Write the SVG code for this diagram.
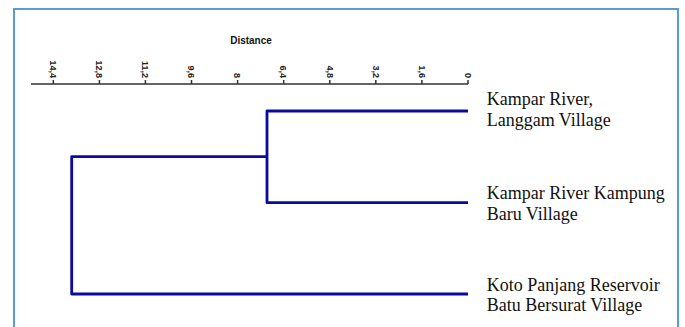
<svg xmlns="http://www.w3.org/2000/svg" width="685" height="327" viewBox="0 0 685 327">
<style>
.frame{fill:none;stroke:#5b9bd5;stroke-width:2}
.axis{fill:none;stroke:#333;stroke-width:1.5}
.tick{font-family:"Liberation Sans",Arial,sans-serif;font-size:9px;font-weight:bold;fill:#222;text-anchor:end}
.title{font-family:"Liberation Sans",Arial,sans-serif;font-size:10px;font-weight:bold;fill:#111;text-anchor:middle}
.dend{fill:none;stroke:#0a0a9e;stroke-width:2.8;stroke-linejoin:round}
.lbl{font-family:"Liberation Serif","Times New Roman",serif;font-size:18px;fill:#111}
</style>
<rect class="frame" x="14" y="9" width="664" height="330"/>
<g id="axis">
<text class="title" x="251" y="44">Distance</text>
<path class="axis" d="M31 84H468M53.3 84V80M99.4 84V80M145.4 84V80M191.5 84V80M237.6 84V80M283.7 84V80M329.8 84V80M375.8 84V80M421.9 84V80M468 84V80"/>
<text class="tick" transform="translate(50,78) rotate(90)">14,4</text>
<text class="tick" transform="translate(96.1,78) rotate(90)">12,8</text>
<text class="tick" transform="translate(142.1,78) rotate(90)">11,2</text>
<text class="tick" transform="translate(188.2,78) rotate(90)">9,6</text>
<text class="tick" transform="translate(234.3,78) rotate(90)">8</text>
<text class="tick" transform="translate(280.4,78) rotate(90)">6,4</text>
<text class="tick" transform="translate(326.5,78) rotate(90)">4,8</text>
<text class="tick" transform="translate(372.5,78) rotate(90)">3,2</text>
<text class="tick" transform="translate(418.6,78) rotate(90)">1,6</text>
<text class="tick" transform="translate(464.7,78) rotate(90)">0</text>
</g>
<g id="connectors">
<path class="dend" d="M468 111H267V202.7H468"/>
<path class="dend" d="M267 156.7H71.7V294H468"/>
</g>
<g id="node-langgam">
<text class="lbl" x="486.7" y="105">Kampar River,</text>
<text class="lbl" x="486.7" y="125.5">Langgam Village</text>
</g>
<g id="node-kampung-baru">
<text class="lbl" x="486.7" y="199">Kampar River Kampung</text>
<text class="lbl" x="486.7" y="219.5">Baru Village</text>
</g>
<g id="node-koto-panjang">
<text class="lbl" x="486.7" y="290.7">Koto Panjang Reservoir</text>
<text class="lbl" x="486.7" y="311">Batu Bersurat Village</text>
</g>
</svg>
